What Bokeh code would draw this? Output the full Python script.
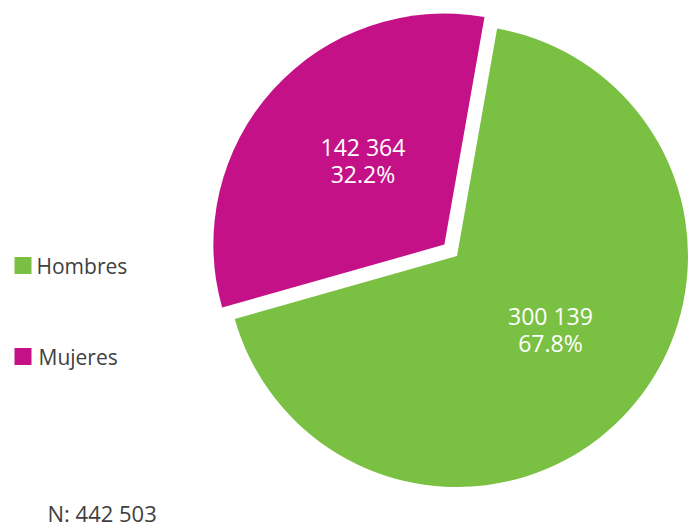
import math
from bokeh.plotting import figure
from bokeh.models import Range1d, ColumnDataSource
from bokeh.core.properties import value
from bokeh.embed import file_html
from bokeh.resources import INLINE

# ---- data ----
categories = ["Hombres", "Mujeres"]
counts = [300139, 142364]
colors = ["#7AC143", "#C41188"]
total_n = 442503
explode = [0, 17]          # px offset of each slice
first_slice_angle = 10     # degrees clockwise from 12 o'clock

# ---- layout (page pixel coords; data y = 529 - screen y) ----
W, H = 688, 529
cx, cy = 456.5, 529 - 255.5
R = 231

p = figure(width=W, height=H, output_backend="svg", toolbar_location=None,
           x_range=Range1d(0, W), y_range=Range1d(0, H),
           min_border=0)
p.axis.visible = False
p.grid.visible = False
p.outline_line_color = None
p.background_fill_color = "white"
p.border_fill_color = "white"

tot = sum(counts)
# slices go clockwise starting at first_slice_angle from 12 o'clock
ang = 90 - first_slice_angle
xs, ys, sa, ea, lx, ly, l1, l2 = [], [], [], [], [], [], [], []
for cat, v, col, ex in zip(categories, counts, colors, explode):
    sweep = 360 * v / tot
    start, end = ang - sweep, ang
    mid = math.radians((start + end) / 2)
    x0 = cx + ex * math.cos(mid)
    y0 = cy + ex * math.sin(mid)
    xs.append(x0); ys.append(y0)
    sa.append(math.radians(start)); ea.append(math.radians(end))
    lx.append(x0 + 0.51 * R * math.cos(mid))
    ly.append(y0 + 0.51 * R * math.sin(mid))
    l1.append(f"{v:,}".replace(",", " "))
    l2.append(f"{100 * v / tot:.1f}%")
    ang = start

src = ColumnDataSource(dict(x=xs, y=ys, start=sa, end=ea, color=colors,
                            lx=lx, ly=ly, l1=l1, l2=l2))
p.wedge(x="x", y="y", radius=R, start_angle="start", end_angle="end",
        fill_color="color", line_color=None, source=src)

font = value("Open Sans")
p.text(x="lx", y="ly", text="l1", source=src, text_color="white",
       text_font=font, text_font_size="23px", text_align="center",
       text_baseline="middle", x_offset=6, y_offset=-19)
p.text(x="lx", y="ly", text="l2", source=src, text_color="white",
       text_font=font, text_font_size="23px", text_align="center",
       text_baseline="middle", x_offset=6, y_offset=8)

# legend
leg_y = [529 - 265, 529 - 356]
p.rect(x=[22.5, 22.5], y=leg_y, width=17, height=17, fill_color=colors,
       line_color=None)
p.text(x=[36, 38], y=leg_y, text=categories, text_color="#404040",
       text_font=font, text_font_size="21px", text_align="left",
       text_baseline="middle", y_offset=0)

# N note
p.text(x=[47], y=[529 - 512], text=[f"N: {total_n:,}".replace(",", " ")],
       text_color="#404040", text_font=font, text_font_size="22px",
       text_align="left", text_baseline="middle")

open("out.html", "w").write(file_html(p, INLINE))
